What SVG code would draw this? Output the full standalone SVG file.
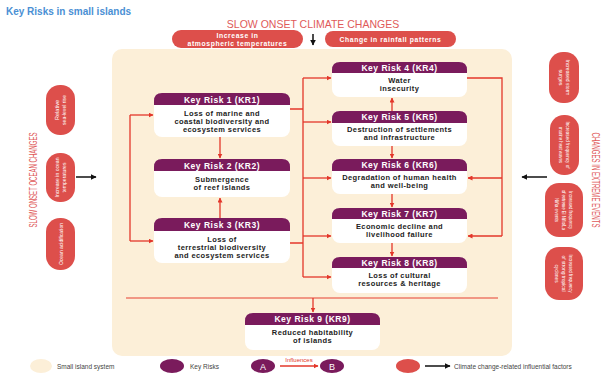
<svg xmlns="http://www.w3.org/2000/svg" width="603" height="378" viewBox="0 0 603 378">
<defs>
<marker id="ar" viewBox="0 0 10 10" refX="9" refY="5" markerWidth="5" markerHeight="5" markerUnits="userSpaceOnUse" orient="auto"><path d="M0,0 L10,5 L0,10 Z" fill="#e3372a"/></marker>
<marker id="ab" viewBox="0 0 10 10" refX="9" refY="5" markerWidth="6" markerHeight="6" markerUnits="userSpaceOnUse" orient="auto"><path d="M0,0 L10,5 L0,10 Z" fill="#111"/></marker>
<style>
.t{font-family:"Liberation Sans",Arial,sans-serif}
.pill{fill:#dd4f4b}
.pt{font-family:"Liberation Sans",Arial,sans-serif;font-weight:bold;fill:#fff;font-size:6.8px;letter-spacing:0.6px;text-anchor:middle}
.vt{font-family:"Liberation Sans",Arial,sans-serif;fill:#fff;font-size:6px;text-anchor:middle;dominant-baseline:central}
.hd{fill:#7a1b5c}
.bd{fill:#fff}
.ht{font-family:"Liberation Sans",Arial,sans-serif;font-weight:bold;fill:#fff;font-size:8.5px;letter-spacing:0.5px;text-anchor:middle}
.bt{font-family:"Liberation Sans",Arial,sans-serif;font-weight:bold;fill:#222;font-size:7.5px;letter-spacing:0.4px;text-anchor:middle}
.c{fill:none;stroke:#e3372a;stroke-width:1.3}
.k{fill:none;stroke:#111;stroke-width:1.5}
.sec{font-family:"Liberation Sans",Arial,sans-serif;fill:#e05a5a;font-size:10.5px;text-anchor:middle}
.lg{font-family:"Liberation Sans",Arial,sans-serif;fill:#444;font-size:6.5px}
</style>
</defs>
<rect width="603" height="378" fill="#fff"/>
<text class="t" x="6" y="15" font-size="10" font-weight="bold" fill="#4a8fd4">Key Risks in small islands</text>
<text class="sec" x="313" y="28">SLOW ONSET CLIMATE CHANGES</text>
<rect id="island" x="112" y="49" width="400" height="307" rx="10" fill="#fcefd8"/>

<g id="climate-drivers">
<g id="f-temp"><rect class="pill" x="172" y="30" width="131" height="18" rx="9"/><text class="pt" x="237.5" y="37.5">Increase in</text><text class="pt" x="237.5" y="45.5">atmospheric temperatures</text></g>
<g id="f-rain"><rect class="pill" x="325" y="31" width="131" height="16" rx="8"/><text class="pt" x="390.5" y="41.5">Change in rainfall patterns</text></g>
</g>

<text class="sec" transform="translate(33,180) rotate(-90)" dominant-baseline="central" font-size="9" textLength="95" lengthAdjust="spacingAndGlyphs">SLOW ONSET OCEAN CHANGES</text>
<g id="ocean-drivers">
<g id="f-sea"><rect class="pill" x="46" y="85" width="29" height="50" rx="14"/><text class="vt" transform="translate(60.5,110) rotate(-90)" y="-3.5" textLength="20" lengthAdjust="spacingAndGlyphs">Relative</text><text class="vt" transform="translate(60.5,110) rotate(-90)" y="3.5" textLength="30" lengthAdjust="spacingAndGlyphs">sea-level rise</text></g>
<g id="f-ocean"><rect class="pill" x="46" y="153" width="29" height="49" rx="14"/><text class="vt" transform="translate(60.5,177.5) rotate(-90)" y="-3.5" textLength="40" lengthAdjust="spacingAndGlyphs">Increase in ocean</text><text class="vt" transform="translate(60.5,177.5) rotate(-90)" y="3.5" textLength="30" lengthAdjust="spacingAndGlyphs">temperatures</text></g>
<g id="f-acid"><rect class="pill" x="46" y="218" width="29" height="52" rx="14"/><text class="vt" transform="translate(60.5,244) rotate(-90)" textLength="42" lengthAdjust="spacingAndGlyphs">Ocean acidification</text></g>
</g>

<text class="sec" transform="translate(596,180) rotate(90)" dominant-baseline="central" font-size="9" textLength="95" lengthAdjust="spacingAndGlyphs">CHANGES IN EXTREME EVENTS</text>
<g id="extreme-drivers">
<g id="f-storm"><rect class="pill" x="549" y="52" width="30" height="51" rx="14"/><text class="vt" transform="translate(564,77.5) rotate(90)" y="-3.5" textLength="36" lengthAdjust="spacingAndGlyphs">Increased storm</text><text class="vt" transform="translate(564,77.5) rotate(90)" y="3.5" textLength="16" lengthAdjust="spacingAndGlyphs">surges</text></g>
<g id="f-heat"><rect class="pill" x="550" y="115" width="29" height="60" rx="14"/><text class="vt" transform="translate(564.5,145) rotate(90)" y="-3.5" textLength="47" lengthAdjust="spacingAndGlyphs">Increased frequency of</text><text class="vt" transform="translate(564.5,145) rotate(90)" y="3.5" textLength="36" lengthAdjust="spacingAndGlyphs">marine heat waves</text></g>
<g id="f-enso"><rect class="pill" x="545" y="183" width="38" height="54" rx="14"/><text class="vt" transform="translate(564,210) rotate(90)" y="-7" textLength="38" lengthAdjust="spacingAndGlyphs">Increased frequency</text><text class="vt" transform="translate(564,210) rotate(90)" y="0" textLength="40" lengthAdjust="spacingAndGlyphs">of extreme El Niño/La</text><text class="vt" transform="translate(564,210) rotate(90)" y="7" textLength="24" lengthAdjust="spacingAndGlyphs">Niña events</text></g>
<g id="f-cyclone"><rect class="pill" x="545" y="247" width="38" height="53" rx="14"/><text class="vt" transform="translate(564,273.5) rotate(90)" y="-7" textLength="38" lengthAdjust="spacingAndGlyphs">Increased frequency</text><text class="vt" transform="translate(564,273.5) rotate(90)" y="0" textLength="36" lengthAdjust="spacingAndGlyphs">of strong tropical</text><text class="vt" transform="translate(564,273.5) rotate(90)" y="7" textLength="18" lengthAdjust="spacingAndGlyphs">cyclones</text></g>
</g>

<g id="connectors">
<path class="k" d="M313,34 V45" marker-end="url(#ab)"/>
<path class="k" d="M76,177 H96" marker-end="url(#ab)"/>
<path class="k" d="M547,177 H522" marker-end="url(#ab)"/>
<path class="c" d="M130,115 V241"/>
<path class="c" d="M130,115 H153" marker-end="url(#ar)"/>
<path class="c" d="M130,241 H153" marker-end="url(#ar)"/>
<path class="c" d="M220,137 V158" marker-end="url(#ar)"/>
<path class="c" d="M220,218 V198" marker-end="url(#ar)"/>
<path class="c" d="M290,109 H303 M290,243 H303 M303,78 V277"/>
<path class="c" d="M303,78 H331" marker-end="url(#ar)"/>
<path class="c" d="M303,122 H331" marker-end="url(#ar)"/>
<path class="c" d="M303,178 H331" marker-end="url(#ar)"/>
<path class="c" d="M303,236 H331" marker-end="url(#ar)"/>
<path class="c" d="M303,277 H331" marker-end="url(#ar)"/>
<path class="c" d="M392,111 V98" marker-end="url(#ar)"/>
<path class="c" d="M392,146 V158" marker-end="url(#ar)"/>
<path class="c" d="M392,194 V207" marker-end="url(#ar)"/>
<path class="c" d="M392,243 V256" marker-end="url(#ar)"/>
<path class="c" d="M467,78 H502 V236"/>
<path class="c" d="M502,178 H468" marker-end="url(#ar)"/>
<path class="c" d="M502,236 H468" marker-end="url(#ar)"/>
<path d="M126,298 H498" fill="none" stroke="#ee7a68" stroke-width="1.6"/>
<path class="c" d="M313,298 V312" marker-end="url(#ar)"/>
</g>

<g id="kr1"><rect class="bd" x="154" y="93" width="136" height="44" rx="8"/><path class="hd" d="M154,105 V101 Q154,93 162,93 H282 Q290,93 290,101 V105 Z"/><text class="ht" x="222" y="102.5">Key Risk 1 (KR1)</text><text class="bt" x="222" y="116">Loss of marine and</text><text class="bt" x="222" y="124">coastal biodiversity and</text><text class="bt" x="222" y="132">ecosystem services</text></g>
<g id="kr2"><rect class="bd" x="154" y="159" width="136" height="38" rx="8"/><path class="hd" d="M154,171 V167 Q154,159 162,159 H282 Q290,159 290,167 V171 Z"/><text class="ht" x="222" y="168.5">Key Risk 2 (KR2)</text><text class="bt" x="222" y="182">Submergence</text><text class="bt" x="222" y="190">of reef islands</text></g>
<g id="kr3"><rect class="bd" x="154" y="218" width="136" height="45" rx="8"/><path class="hd" d="M154,231 V226 Q154,218 162,218 H282 Q290,218 290,226 V231 Z"/><text class="ht" x="222" y="227.5">Key Risk 3 (KR3)</text><text class="bt" x="222" y="242">Loss of</text><text class="bt" x="222" y="250">terrestrial biodiversity</text><text class="bt" x="222" y="258">and ecosystem services</text></g>
<g id="kr4"><rect class="bd" x="332" y="62" width="135" height="35" rx="8"/><path class="hd" d="M332,73 V70 Q332,62 340,62 H459 Q467,62 467,70 V73 Z"/><text class="ht" x="399.5" y="70.5">Key Risk 4 (KR4)</text><text class="bt" x="399.5" y="83">Water</text><text class="bt" x="399.5" y="91">insecurity</text></g>
<g id="kr5"><rect class="bd" x="332" y="111" width="135" height="35" rx="8"/><path class="hd" d="M332,123 V119 Q332,111 340,111 H459 Q467,111 467,119 V123 Z"/><text class="ht" x="399.5" y="120">Key Risk 5 (KR5)</text><text class="bt" x="399.5" y="132">Destruction of settlements</text><text class="bt" x="399.5" y="140">and infrastructure</text></g>
<g id="kr6"><rect class="bd" x="332" y="159" width="135" height="35" rx="8"/><path class="hd" d="M332,171 V167 Q332,159 340,159 H459 Q467,159 467,167 V171 Z"/><text class="ht" x="399.5" y="168">Key Risk 6 (KR6)</text><text class="bt" x="399.5" y="180">Degradation of human health</text><text class="bt" x="399.5" y="188">and well-being</text></g>
<g id="kr7"><rect class="bd" x="332" y="208" width="135" height="35" rx="8"/><path class="hd" d="M332,219 V216 Q332,208 340,208 H459 Q467,208 467,216 V219 Z"/><text class="ht" x="399.5" y="216.5">Key Risk 7 (KR7)</text><text class="bt" x="399.5" y="229">Economic decline and</text><text class="bt" x="399.5" y="237">livelihood failure</text></g>
<g id="kr8"><rect class="bd" x="332" y="257" width="135" height="36" rx="8"/><path class="hd" d="M332,268 V265 Q332,257 340,257 H459 Q467,257 467,265 V268 Z"/><text class="ht" x="399.5" y="265.5">Key Risk 8 (KR8)</text><text class="bt" x="399.5" y="278">Loss of cultural</text><text class="bt" x="399.5" y="286">resources &amp; heritage</text></g>
<g id="kr9"><rect class="bd" x="245" y="313" width="135" height="37" rx="8"/><path class="hd" d="M245,325 V321 Q245,313 253,313 H372 Q380,313 380,321 V325 Z"/><text class="ht" x="312.5" y="322">Key Risk 9 (KR9)</text><text class="bt" x="312.5" y="335">Reduced habitability</text><text class="bt" x="312.5" y="343">of islands</text></g>

<g id="legend">
<ellipse cx="41" cy="366" rx="11" ry="7" fill="#fcefd8"/>
<text class="lg" x="57" y="368.5">Small island system</text>
<ellipse cx="172" cy="366" rx="12" ry="7" fill="#7a1b5c"/>
<text class="lg" x="190" y="368.5">Key Risks</text>
<ellipse cx="263" cy="366" rx="12" ry="7" fill="#7a1b5c"/>
<text class="t" x="263" y="369.5" font-size="9" fill="#fff" text-anchor="middle">A</text>
<path class="c" d="M280,366 H318" marker-end="url(#ar)"/>
<text class="t" x="299" y="362" font-size="6" fill="#e3372a" text-anchor="middle">Influences</text>
<ellipse cx="332" cy="366" rx="12" ry="7" fill="#7a1b5c"/>
<text class="t" x="332" y="369.5" font-size="9" fill="#fff" text-anchor="middle">B</text>
<ellipse cx="408" cy="366" rx="12" ry="7" fill="#dd4f4b"/>
<path class="k" d="M425,366 H450" marker-end="url(#ab)"/>
<text class="lg" x="454" y="368.5">Climate change-related influential factors</text>
</g>
</svg>
